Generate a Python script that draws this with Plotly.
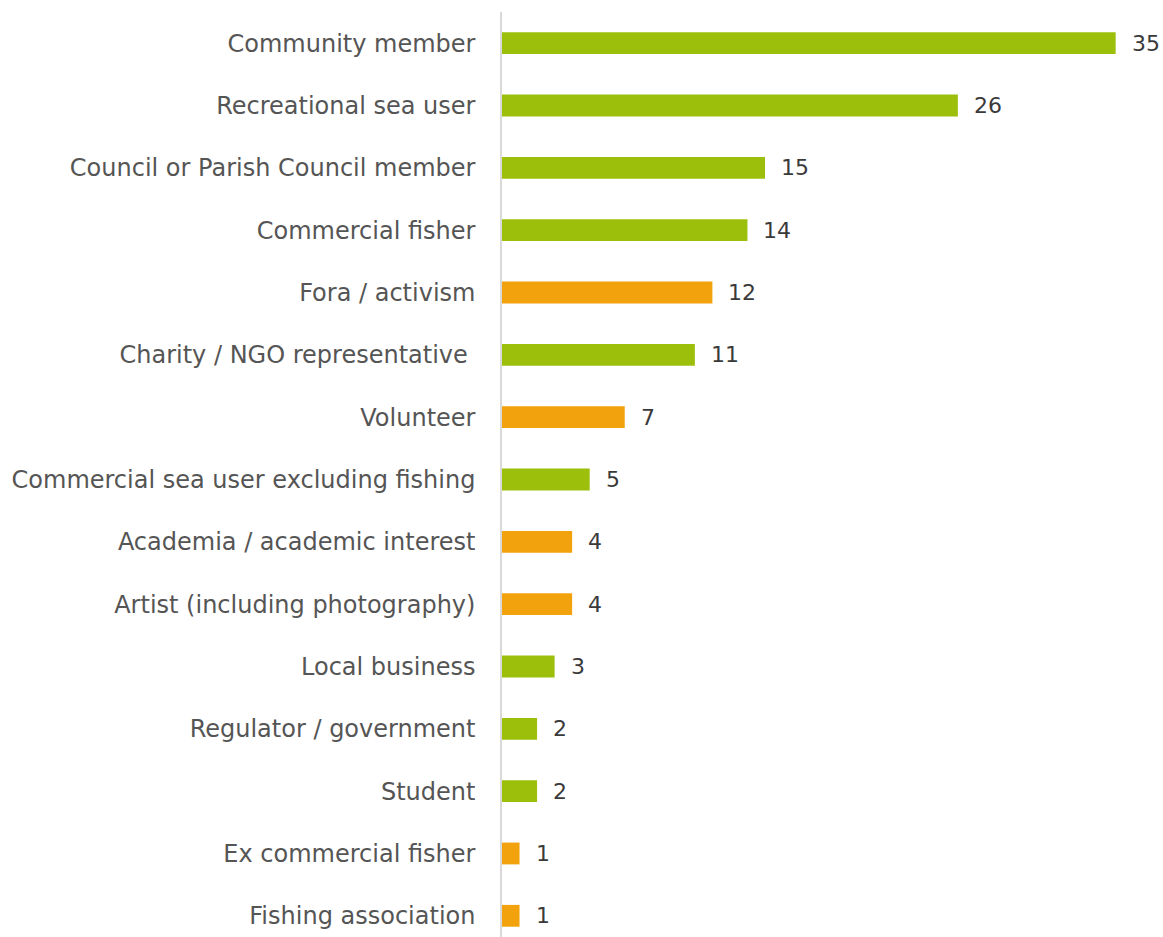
import plotly.graph_objects as go

categories = [
    "Community member",
    "Recreational sea user",
    "Council or Parish Council member",
    "Commercial fisher",
    "Fora / activism",
    "Charity / NGO representative\u00a0",
    "Volunteer",
    "Commercial sea user excluding fishing",
    "Academia / academic interest",
    "Artist (including photography)",
    "Local business",
    "Regulator / government",
    "Student",
    "Ex commercial fisher",
    "Fishing association",
]
counts = [35, 26, 15, 14, 12, 11, 7, 5, 4, 4, 3, 2, 2, 1, 1]
groups = ["g", "g", "g", "g", "o", "g", "o", "g", "o", "o", "g", "g", "g", "o", "o"]

GREEN = "#9cbf0b"
ORANGE = "#f2a20c"
bar_colors = [GREEN if g == "g" else ORANGE for g in groups]

FONT = "DejaVu Sans"

fig = go.Figure(
    go.Bar(
        x=counts,
        y=categories,
        orientation="h",
        marker=dict(color=bar_colors, line=dict(width=0)),
        hoverinfo="x+y",
    )
)

for cat, val in zip(categories, counts):
    fig.add_annotation(
        x=val, y=cat, text=str(val), showarrow=False,
        xanchor="left", xshift=14,
        font=dict(family=FONT, size=22, color="#3a3a3a"),
    )

fig.update_layout(
    width=1163, height=937,
    margin=dict(l=502, r=0, t=12, b=0),
    plot_bgcolor="white", paper_bgcolor="white",
    bargap=0.65,
    showlegend=False,
    xaxis=dict(range=[0, 37.7], visible=False, fixedrange=True),
    yaxis=dict(
        categoryorder="array", categoryarray=categories,
        range=[14.34, -0.5],
        showline=True, linecolor="#d9d9d9", linewidth=1.5,
        showgrid=False, ticks="", ticklabelstandoff=20,
        tickfont=dict(family=FONT, size=24, color="#555555"),
    ),
)

fig.write_html("out.html")
